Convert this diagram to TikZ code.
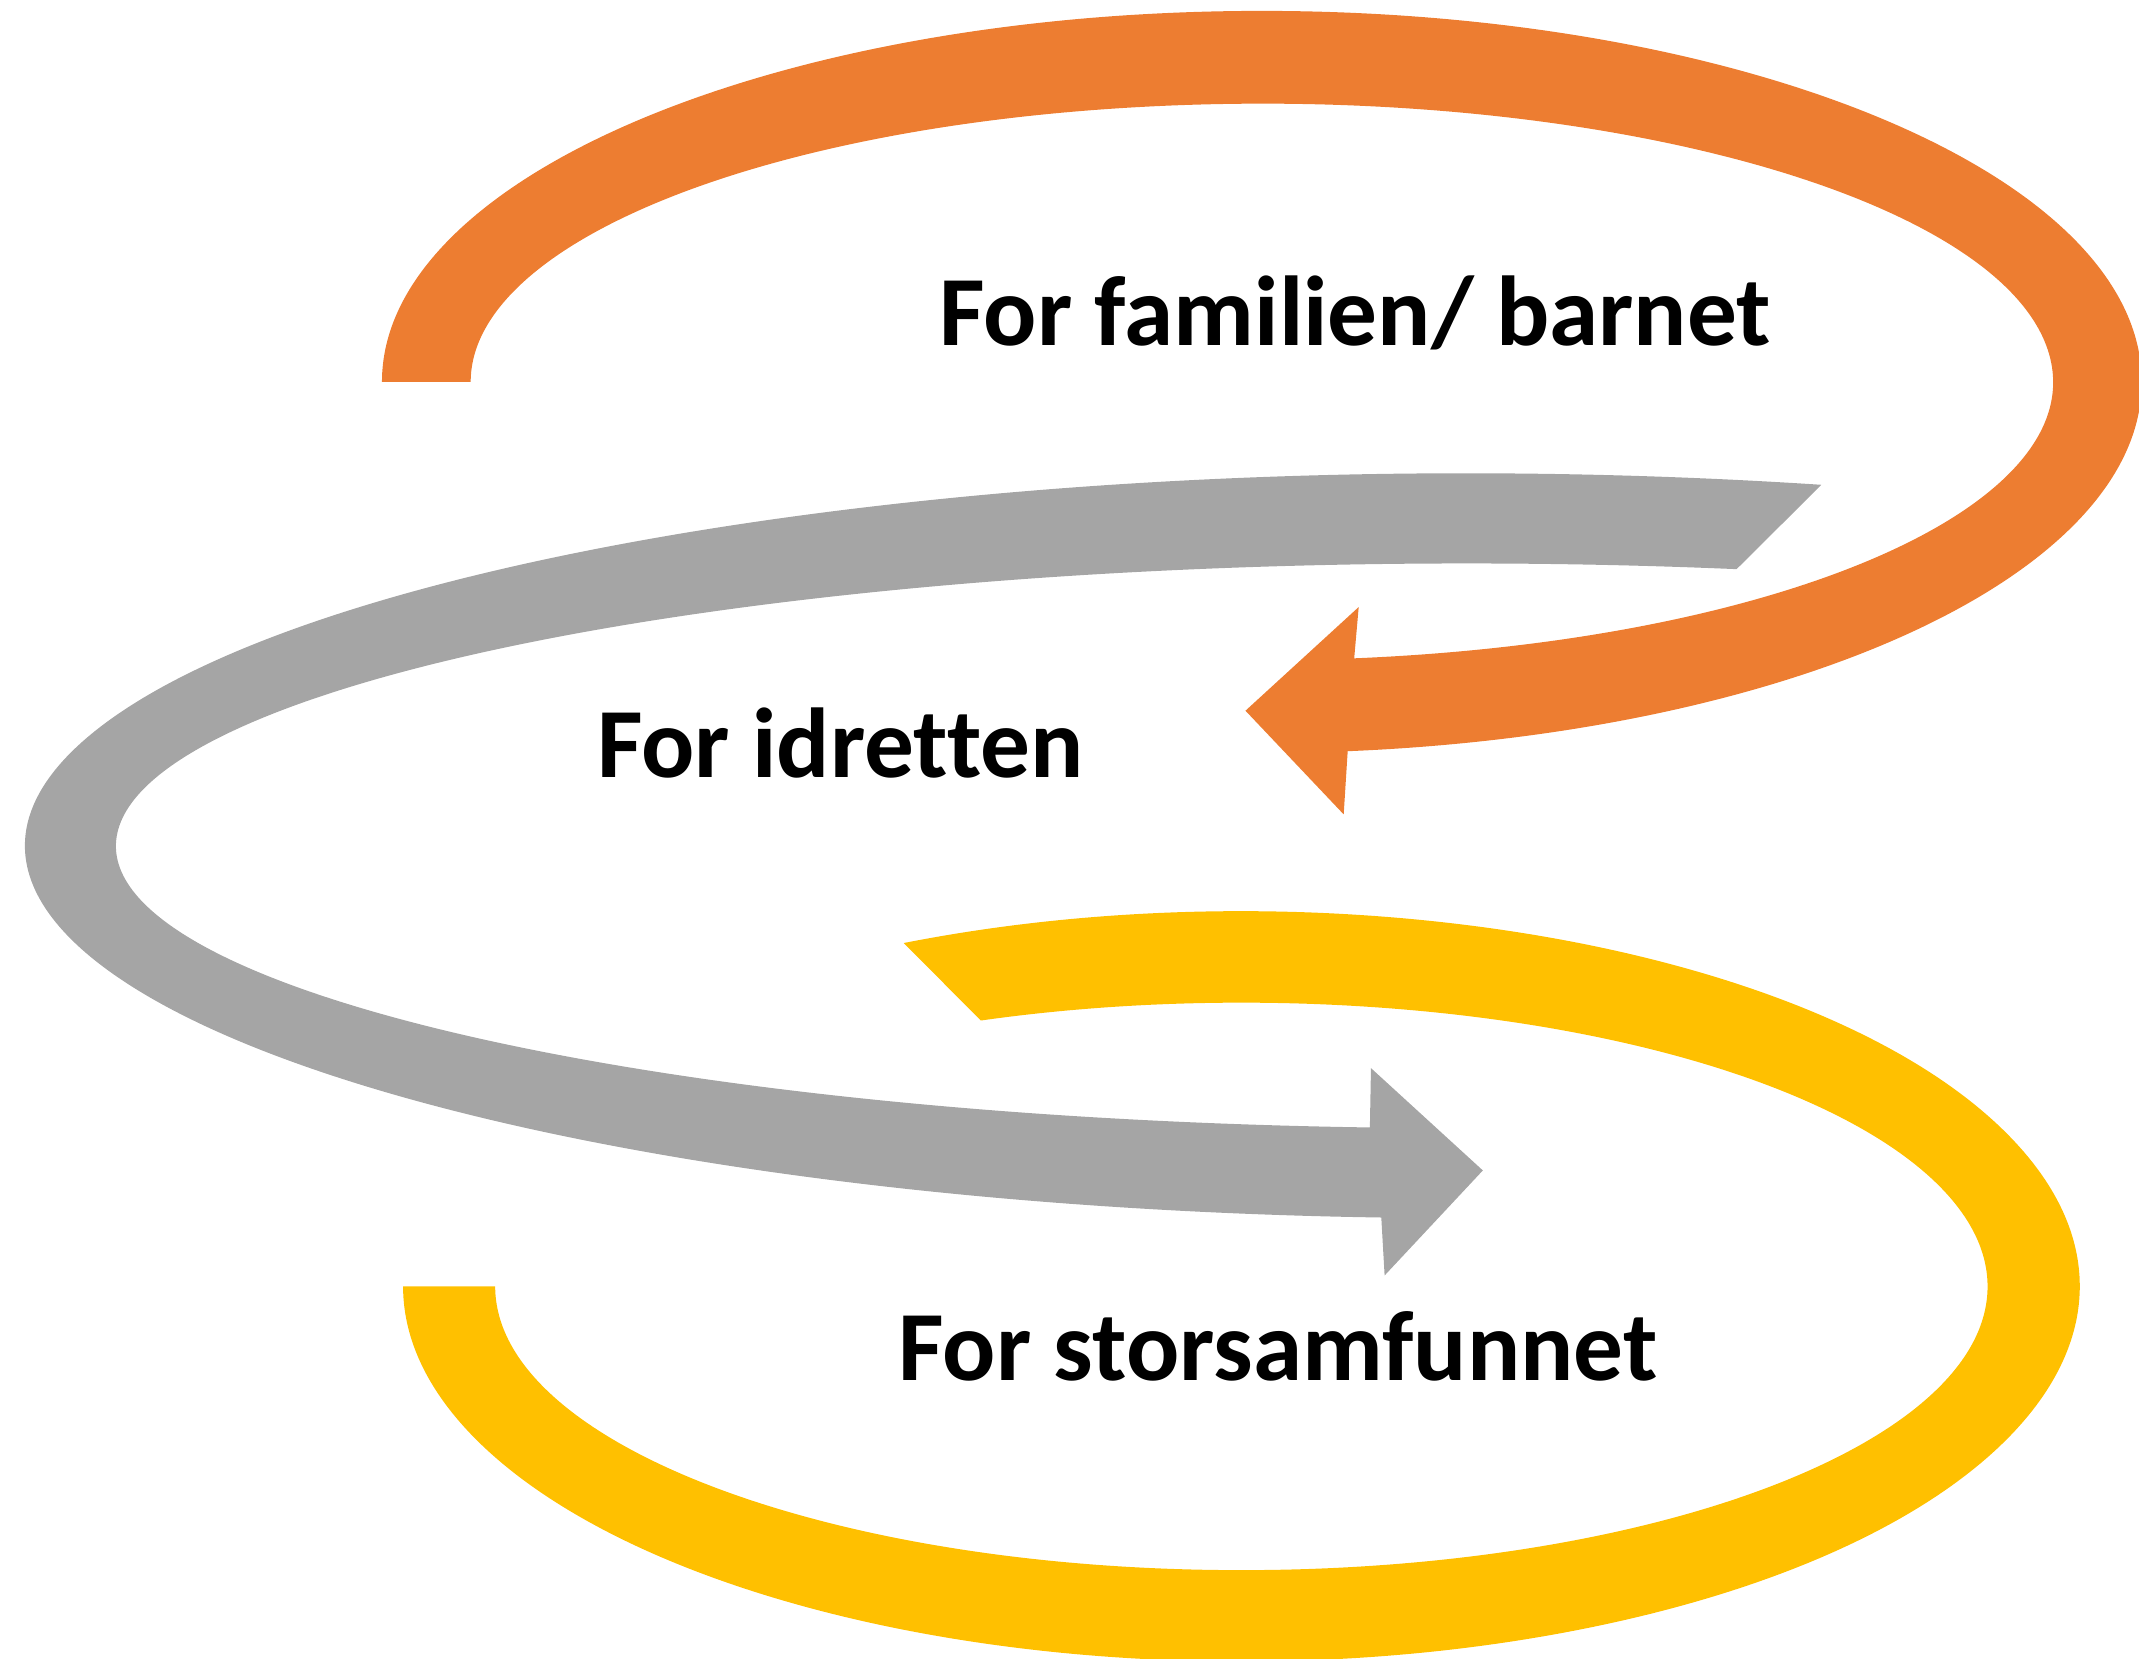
\documentclass[tikz,border=0pt]{standalone}
\usepackage{fontspec}
\setmainfont[Ligatures=CommonOff]{Carlito}
\definecolor{arrorange}{HTML}{ED7D31}
\definecolor{arrgray}{HTML}{A5A5A5}
\definecolor{arryellow}{HTML}{FFC000}
\tikzset{
  band/.style={draw=none},
  lbl/.style={anchor=base west, inner sep=0pt, text=black,
              font=\fontsize{20.7}{24}\selectfont\bfseries}
}
\begin{document}
\begin{tikzpicture}[x=0.01cm,y=0.01cm]
\useasboundingbox (0,0) rectangle (1568,-1216);
\clip (0,0) rectangle (1568,-1216);
% orange arrow (top)
\fill[band, arrorange] (280,-280)
  arc[start angle=180, end angle=-84.4, x radius=645, y radius=272]
  -- (985,-597) -- (913,-521) -- (996,-445) -- (992.7,-482.6)
  arc[start angle=-83.3, end angle=180, x radius=580, y radius=204]
  -- cycle;
% gray arrow (middle)
\fill[band, arrgray] (1335.2,-355.4)
  arc[start angle=75.76, end angle=266.6, x radius=1057, y radius=273]
  -- (1015,-935) -- (1087,-858) -- (1005,-783) -- (1004.2,-826.5)
  arc[start angle=265.9, end angle=78.46, x radius=990, y radius=207]
  -- cycle;
% yellow band (bottom)
\fill[band, arryellow] (662.5,-691.3)
  arc[start angle=113.75, end angle=-180, x radius=614.5, y radius=275]
  -- (363,-943)
  arc[start angle=-180, end angle=110.44, x radius=547, y radius=208]
  -- cycle;
% labels
\node[lbl] (familie) at (688,-253) {For familien/ barnet};
\node[lbl] (idrett) at (437,-570) {For idretten};
\node[lbl] (samfunn) at (658,-1012) {For storsamfunnet};
\end{tikzpicture}
\end{document}
